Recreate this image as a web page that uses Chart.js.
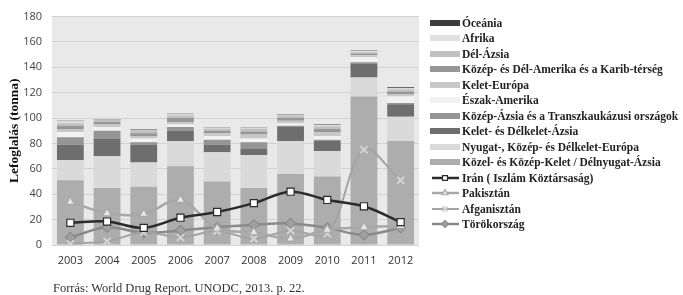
<!DOCTYPE html>
<html>
<head>
<meta charset="utf-8">
<script src="https://cdn.jsdelivr.net/npm/chart.js@4"></script>
<style>
  html, body { margin: 0; padding: 0; background: #fff; }
  #wrap { position: relative; width: 683px; height: 295px; }
  #chart { position: absolute; left: 0; top: 0; }
  #legend { position: absolute; left: 430px; top: 15px; }
  .item { display: flex; align-items: center; height: 15.5px;
          font: bold 11.5px "Liberation Serif", "DejaVu Serif", serif; color: #222; white-space: nowrap; }
  .item canvas { margin-right: 1px; }
  #source { position: absolute; left: 53px; top: 281px;
            font: 12.5px "Liberation Serif", serif; color: #333; }
</style>
</head>
<body>
<div id="wrap">
  <canvas id="chart" width="683" height="295"></canvas>
  <div id="legend"></div>
  <div id="source">Forrás: World Drug Report. UNODC, 2013. p. 22.</div>
</div>
<script>
// ── DATA ─────────────────────────────────────────────────────────────────────
const years = ['2003', '2004', '2005', '2006', '2007', '2008', '2009', '2010', '2011', '2012'];

// stacked regions, bottom → top
const kozelKelet   = [51, 45, 46, 62, 50, 45, 56, 54, 117, 82];
const nyugatEuropa = [16, 25, 19, 20, 23, 26, 26, 20, 15, 19];
const keletDkAzsia = [12, 14, 14, 8, 6, 5, 11, 8, 11, 10];
const kozepAzsia   = [6, 6, 2, 3, 4, 5, 1, 1, 1, 1];
const eszakAmerika = [4, 3, 3, 2, 3, 3, 2, 3, 4, 5];
const keletEuropa  = [2, 2, 2, 2, 2, 3, 2, 3, 1.5, 2];
const kozepDelAm   = [3, 2, 2, 3, 2, 2.5, 2, 2.5, 1.5, 2];
const delAzsia     = [2, 1.5, 2, 2, 1.5, 2, 2, 2, 1, 1.5];
const afrika       = [1.5, 0.5, 0.5, 1, 0.5, 0.5, 0.7, 1, 1, 1];
const oceania      = [0.5, 0.3, 0.5, 0.5, 0.5, 0.5, 0.3, 0.5, 0.5, 0.8];

// country lines
const iran        = [17.5, 18.5, 13.5, 21.5, 26, 33, 42, 35.5, 30.5, 18];
const pakisztan   = [34, 25, 24.5, 35.5, 13, 10, 5, 12, 14, 15];
const afganisztan = [1, 3, 10, 6, 11, 5, 11.5, 9, 75, 51];
const torokorszag = [6, 14, 9.5, 11.5, 14, 16, 17, 13.5, 8, 13.5];

const yTicks = [0, 20, 40, 60, 80, 100, 120, 140, 160, 180];

// ── HELPERS ─────────────────────────────────────────────────────────────────
function barSet(label, data, color) {
  return { type: 'bar', label, data, backgroundColor: color, stack: 'bars', order: 1,
           barPercentage: 0.73, categoryPercentage: 1 };
}

function lineSet(label, data, color, style, fill, edge, width) {
  return {
    type: 'line', label, data, stack: label, order: 0,
    borderColor: color, borderWidth: width, tension: 0.35,
    pointStyle: style, pointRadius: 5, pointBorderWidth: style === 'crossRot' ? 2 : 1.2,
    pointBackgroundColor: fill, pointBorderColor: edge,
  };
}

const bars = [
  barSet('Közel- és Közép-Kelet / Délnyugat-Ázsia', kozelKelet, '#adadad'),
  barSet('Nyugat-, Közép- és Délkelet-Európa', nyugatEuropa, '#dadada'),
  barSet('Kelet- és Délkelet-Ázsia', keletDkAzsia, '#6e6e6e'),
  barSet('Közép-Ázsia és a Transzkaukázusi országok', kozepAzsia, '#959595'),
  barSet('Észak-Amerika', eszakAmerika, '#f2f2f2'),
  barSet('Kelet-Európa', keletEuropa, '#c8c8c8'),
  barSet('Közép- és Dél-Amerika és a Karib-térség', kozepDelAm, '#979797'),
  barSet('Dél-Ázsia', delAzsia, '#c0c0c0'),
  barSet('Afrika', afrika, '#e0e0e0'),
  barSet('Óceánia', oceania, '#3c3c3c'),
];

const lines = [
  lineSet('Irán ( Iszlám Köztársaság)', iran, '#2b2b2b', 'rect', '#ffffff', '#2b2b2b', 2.5),
  lineSet('Pakisztán', pakisztan, '#a8a8a8', 'triangle', '#e6e6e6', '#a8a8a8', 2.5),
  lineSet('Afganisztán', afganisztan, '#a4a4a4', 'crossRot', '#a4a4a4', '#d4d4d4', 2),
  lineSet('Törökország', torokorszag, '#8a8a8a', 'rectRot', '#a0a0a0', '#8a8a8a', 2.5),
];

// plot area background
const plotBg = {
  id: 'plotBg',
  beforeDraw(chart) {
    const { ctx, chartArea: a } = chart;
    ctx.save();
    ctx.fillStyle = '#e9e9e9';
    ctx.fillRect(a.left, a.top, a.right - a.left, a.bottom - a.top);
    ctx.restore();
  }
};

const chart = new Chart(document.getElementById('chart'), {
  data: { labels: years, datasets: [...bars, ...lines] },
  plugins: [plotBg],
  options: {
    responsive: false,
    animation: false,
    layout: { padding: { top: 14, right: 264, left: 6, bottom: 0 } },
    plugins: { legend: { display: false }, tooltip: { enabled: false } },
    scales: {
      x: {
        stacked: true,
        grid: { display: false },
        border: { display: false },
        ticks: { color: '#333', font: { family: 'Open Sans', size: 11 }, padding: 1 },
        afterFit(s) { s.height = 50; },
      },
      y: {
        stacked: true,
        min: 0, max: 180,
        afterBuildTicks(s) { s.ticks = yTicks.map(v => ({ value: v })); },
        grid: { color: '#d2d2d2', lineWidth: 1, drawTicks: false },
        border: { display: false },
        ticks: { color: '#444', font: { family: 'Open Sans', size: 11 }, padding: 10 },
        title: { display: true, text: 'Lefoglalás (tonna)', color: '#111',
                 font: { family: 'Liberation Serif', size: 13.5, weight: 'bold' }, padding: 0 },
        afterFit(s) { s.width = 46; },
      }
    }
  }
});

// ── LEGEND (HTML, top → bottom as in the original) ─────────────────────────
const legendEl = document.getElementById('legend');
[...bars].reverse().concat(lines).forEach(ds => {
  const row = document.createElement('div');
  row.className = 'item';
  const sw = document.createElement('canvas');
  sw.width = 31; sw.height = 14;
  const c = sw.getContext('2d');
  if (ds.type === 'bar') {
    c.fillStyle = ds.backgroundColor;
    c.fillRect(0, 4, 30, 6);
  } else {
    c.strokeStyle = ds.borderColor;
    c.lineWidth = ds.borderWidth;
    c.beginPath(); c.moveTo(2, 7); c.lineTo(29, 7); c.stroke();
    c.fillStyle = ds.pointBackgroundColor;
    c.strokeStyle = ds.pointBorderColor;
    c.lineWidth = ds.pointBorderWidth;
    Chart.helpers.drawPoint(c, { pointStyle: ds.pointStyle, radius: 3.5, rotation: 0, borderWidth: ds.pointBorderWidth }, 15, 7);
  }
  row.appendChild(sw);
  const t = document.createElement('span');
  t.textContent = ds.label;
  row.appendChild(t);
  legendEl.appendChild(row);
});
</script>
</body>
</html>
